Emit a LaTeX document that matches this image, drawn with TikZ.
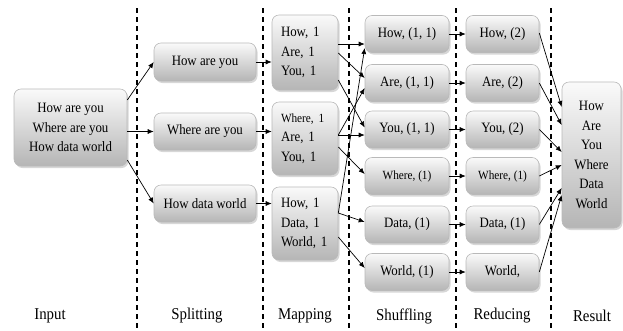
\documentclass[tikz,border=0pt]{standalone}
\usepackage{fontspec}
\setmainfont{Liberation Serif}[FakeStretch=0.9]
\usetikzlibrary{arrows.meta,shadows,calc}
\begin{document}
\begin{tikzpicture}[x=1pt,y=-1pt,
  box/.style={draw=gray!55, line width=0.6pt, rounded corners=7pt,
    top color=gray!4, bottom color=gray!58, inner sep=0pt,
    font=\fontsize{14.3}{19.5}\selectfont, align=center,
    drop shadow={shadow xshift=1.5pt, shadow yshift=-2pt, fill=gray!70, opacity=0.45}},
  sbox/.style={box, minimum width=84pt, minimum height=37pt},
  rbox/.style={box, minimum width=73pt, minimum height=37pt},
  mbox/.style={box, minimum width=66pt, text width=48pt, align=left},
  small/.style={font=\fontsize{12.5}{19.5}\selectfont},
  sep/.style={dashed, dash pattern=on 5pt off 4pt, line width=1.1pt},
  arr/.style={-{Latex[length=6pt,width=5pt]}, line width=0.7pt},
  lab/.style={font=\fontsize{16.5}{19}\selectfont}
]
\useasboundingbox (0,0) rectangle (623,330);

% phase separators
\foreach \xx/\nm in {137/d1,263/d2,349/d3,456/d4,551/d5}{
  \coordinate (\nm t) at (\xx,8);
  \coordinate (\nm b) at (\xx,330);
  \draw[sep] (\nm t) -- (\nm b);
}

% input
\node[box, minimum width=113pt, minimum height=77pt] (in) at (70.5,127.5)
  {How are you\\Where are you\\How data world};

% splitting
\node[box, minimum width=102pt, minimum height=38pt] (s1) at (205,62) {How are you};
\node[box, minimum width=102pt, minimum height=37pt] (s2) at (205,131.5) {Where are you};
\node[box, minimum width=102pt, minimum height=37pt] (s3) at (205,203.5) {How data world};

% mapping
\node[mbox, minimum height=75pt] (m1) at (305,52.5) {How, 1\\Are, 1\\You, 1};
\node[mbox, minimum height=73pt] (m2) at (305,138.5) {{\fontsize{12.5}{19.5}\selectfont Where, 1}\\Are, 1\\You, 1};
\node[mbox, minimum height=73pt] (m3) at (305,223.5) {How, 1\\Data, 1\\World, 1};

% shuffling
\node[sbox] (h1) at (407,34) {How, (1, 1)};
\node[sbox] (h2) at (407,83) {Are, (1, 1)};
\node[sbox] (h3) at (407,129.5) {You, (1, 1)};
\node[sbox, small] (h4) at (407,176) {Where, (1)};
\node[sbox] (h5) at (407,224.5) {Data, (1)};
\node[sbox] (h6) at (407,272) {World, (1)};

% reducing
\node[rbox] (r1) at (502.5,34) {How, (2)};
\node[rbox] (r2) at (502.5,83) {Are, (2)};
\node[rbox] (r3) at (502.5,129.5) {You, (2)};
\node[rbox, small] (r4) at (502.5,176) {Where, (1)};
\node[rbox] (r5) at (502.5,224.5) {Data, (1)};
\node[rbox] (r6) at (502.5,272) {World,};

% result
\node[box, minimum width=59pt, minimum height=146pt] (res) at (591.5,155)
  {How\\Are\\You\\Where\\Data\\World};

% input -> splitting
\draw[arr] ($(in.east)+(0,-27.5)$) -- (s1.west);
\draw[arr] (in.east |- s2.west) -- (s2.west);
\draw[arr] ($(in.east)+(0,32.5)$) -- (s3.west);

% splitting -> mapping
\draw[arr] (s1.east) -- (m1.west |- s1.east);
\draw[arr] (s2.east) -- (m2.west |- s2.east);
\draw[arr] (s3.east) -- (m3.west |- s3.east);

% mapping -> shuffling
\draw[arr] ($(m1.east)+(0,-8.5)$) -- ($(h1.west)+(0,10)$);
\draw[arr] ($(m1.east)+(0,0.5)$) -- ($(h2.west)+(0,-5)$);
\draw[arr] ($(m1.east)+(0,27.5)$) -- ($(h3.west)+(0,-2)$);
\draw[arr] ($(m2.east)+(0,-3.5)$) -- ($(h2.west)+(0,5)$);
\draw[arr] ($(m2.east)+(0,-3.5)$) -- ($(h3.west)+(0,5.5)$);
\draw[arr] ($(m2.east)+(0,8.5)$) -- ($(h4.west)+(0,-2)$);
\draw[arr] ($(m3.east)+(0,-10.5)$) -- ($(h1.west)+(0,14)$);
\draw[arr] ($(m3.east)+(0,-10.5)$) -- ($(h5.west)+(0,-2.5)$);
\draw[arr] ($(m3.east)+(0,13.5)$) -- ($(h6.west)+(0,-4)$);

% shuffling -> reducing
\foreach \i in {1,...,6}{
  \draw[arr] (h\i.east) -- (r\i.west);
}

% reducing -> result
\draw[arr] ($(r1.east)+(0,-1)$) -- ($(res.west)+(0,-48)$);
\draw[arr] (r2.east) -- ($(res.west)+(0,-30)$);
\draw[arr] (r3.east) -- ($(res.west)+(0,-3)$);
\draw[arr] (r4.east) -- ($(res.west)+(0,10)$);
\draw[arr] (r5.east) -- ($(res.west)+(0,33)$);
\draw[arr] (r6.east) -- ($(res.west)+(0,40)$);

% phase labels
\node[lab] (l1) at (50,316) {Input};
\node[lab] (l2) at (197,316) {Splitting};
\node[lab] (l3) at (305,316) {Mapping};
\node[lab] (l4) at (404,316) {Shuffling};
\node[lab] (l5) at (502,316) {Reducing};
\node[lab] (l6) at (592,316) {Result};
\end{tikzpicture}
\end{document}
